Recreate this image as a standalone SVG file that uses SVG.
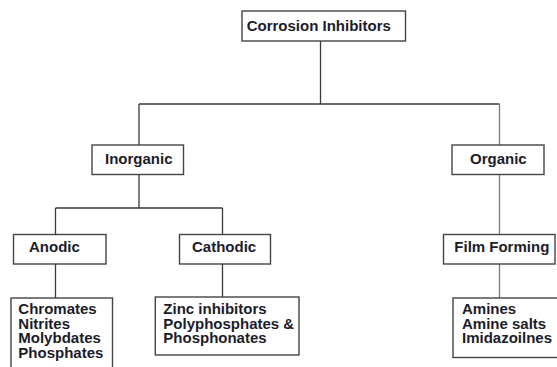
<svg xmlns="http://www.w3.org/2000/svg" width="557" height="367" viewBox="0 0 557 367">
<style>
.box{fill:#ffffff;stroke:#444444;stroke-width:1.4}
.t{font-family:"Liberation Sans",Arial,sans-serif;font-size:15px;font-weight:bold;fill:#1c1c2a}
.c{fill:none;stroke:#3a3a3a;stroke-width:1.3}
.cg{fill:none;stroke:#7a7a7a;stroke-width:1.3}
</style>
<rect width="557" height="367" fill="#ffffff"/>
<g id="connectors">
<path class="c" d="M320.5 41V104M139 104H499.5M139 104V145"/>
<path class="cg" d="M499.5 104V145M499.5 174V234.5M499.5 264V298"/>
<path class="c" d="M139 174V208M55.5 208H222.5M55.5 208V234.5M222.5 208V234.5M55.5 264V298M222.5 264V297"/>
</g>
<g id="corrosion-inhibitors">
<rect class="box" x="242" y="11" width="163.5" height="30"/>
<text class="t" x="246.7" y="31">Corrosion Inhibitors</text>
</g>
<g id="inorganic">
<rect class="box" x="92" y="145" width="91.5" height="29.5"/>
<text class="t" x="105" y="163.5">Inorganic</text>
</g>
<g id="organic">
<rect class="box" x="452" y="145" width="92" height="29.5"/>
<text class="t" x="470" y="163.5">Organic</text>
</g>
<g id="anodic">
<rect class="box" x="13.5" y="234.5" width="92.5" height="29.5"/>
<text class="t" x="29" y="252">Anodic</text>
</g>
<g id="cathodic">
<rect class="box" x="179.5" y="234.5" width="91" height="29.5"/>
<text class="t" x="192" y="252">Cathodic</text>
</g>
<g id="film-forming">
<rect class="box" x="443.5" y="234.5" width="111.5" height="29.5"/>
<text class="t" x="454.3" y="252">Film Forming</text>
</g>
<g id="anodic-list">
<rect class="box" x="11" y="298" width="101.5" height="80"/>
<text class="t" x="18.3" y="314.3">Chromates</text>
<text class="t" x="18.3" y="328.8">Nitrites</text>
<text class="t" x="18.3" y="343.3">Molybdates</text>
<text class="t" x="18.3" y="357.8">Phosphates</text>
</g>
<g id="cathodic-list">
<rect class="box" x="155.3" y="297" width="143.7" height="58"/>
<text class="t" x="163.3" y="314.3">Zinc inhibitors</text>
<text class="t" x="163.3" y="328.8">Polyphosphates &amp;</text>
<text class="t" x="163.3" y="343.3">Phosphonates</text>
</g>
<g id="film-forming-list">
<rect class="box" x="453" y="298" width="106" height="59.5"/>
<text class="t" x="462" y="314.3">Amines</text>
<text class="t" x="462" y="328.8">Amine salts</text>
<text class="t" x="462" y="343.3">Imidazoilnes</text>
</g>
</svg>
